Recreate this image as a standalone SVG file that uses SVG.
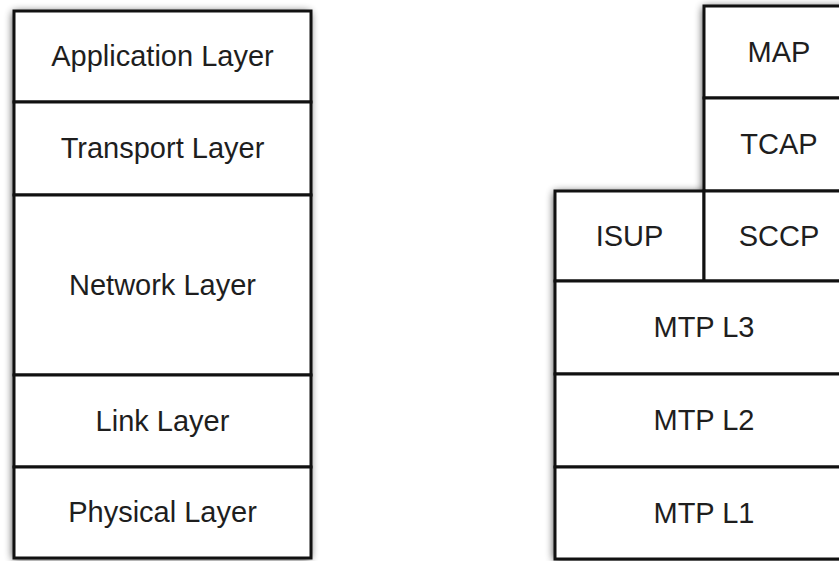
<svg xmlns="http://www.w3.org/2000/svg" width="839" height="561" viewBox="0 0 839 561">
<defs>
<filter id="sh" x="-10%" y="-10%" width="120%" height="120%">
<feGaussianBlur in="SourceAlpha" stdDeviation="4"/>
<feOffset dx="-1" dy="1" result="b"/>
<feComponentTransfer><feFuncA type="linear" slope="0.8"/></feComponentTransfer>
<feMerge><feMergeNode/><feMergeNode in="SourceGraphic"/></feMerge>
</filter>
</defs>
<style>
rect{fill:#fff;stroke:#111;stroke-width:3}
text{font-family:"Liberation Sans",Arial,sans-serif;font-size:29px;fill:#1e1e1e;text-anchor:middle;dominant-baseline:central}
</style>
<rect x="0" y="0" width="839" height="561" style="fill:#fff;stroke:none"/>
<g filter="url(#sh)">
<rect x="14" y="11" width="297" height="547" style="stroke:none"/>
<rect x="704" y="6" width="150" height="280" style="stroke:none"/>
<rect x="555" y="191" width="299" height="368" style="stroke:none"/>
</g>
<g id="application"><rect x="14" y="11" width="297" height="91"/><text x="162.5" y="56">Application Layer</text></g>
<g id="transport"><rect x="14" y="102" width="297" height="93"/><text x="162.5" y="148">Transport Layer</text></g>
<g id="network"><rect x="14" y="195" width="297" height="180"/><text x="162.5" y="284.5">Network Layer</text></g>
<g id="link"><rect x="14" y="375" width="297" height="92"/><text x="162.5" y="420.5">Link Layer</text></g>
<g id="physical"><rect x="14" y="467" width="297" height="91"/><text x="162.5" y="512">Physical Layer</text></g>
<g id="map"><rect x="704" y="6" width="150" height="92"/><text x="779" y="51.5">MAP</text></g>
<g id="tcap"><rect x="704" y="98" width="150" height="93"/><text x="779" y="144">TCAP</text></g>
<g id="isup"><rect x="555" y="191" width="149" height="90"/><text x="629.5" y="235.5">ISUP</text></g>
<g id="sccp"><rect x="704" y="191" width="150" height="90"/><text x="779" y="235.5">SCCP</text></g>
<g id="mtpl3"><rect x="555" y="281" width="299" height="93"/><text x="704" y="327">MTP L3</text></g>
<g id="mtpl2"><rect x="555" y="374" width="299" height="93"/><text x="704" y="420">MTP L2</text></g>
<g id="mtpl1"><rect x="555" y="467" width="299" height="92"/><text x="704" y="512.5">MTP L1</text></g>
<g id="connectors"/>
</svg>
